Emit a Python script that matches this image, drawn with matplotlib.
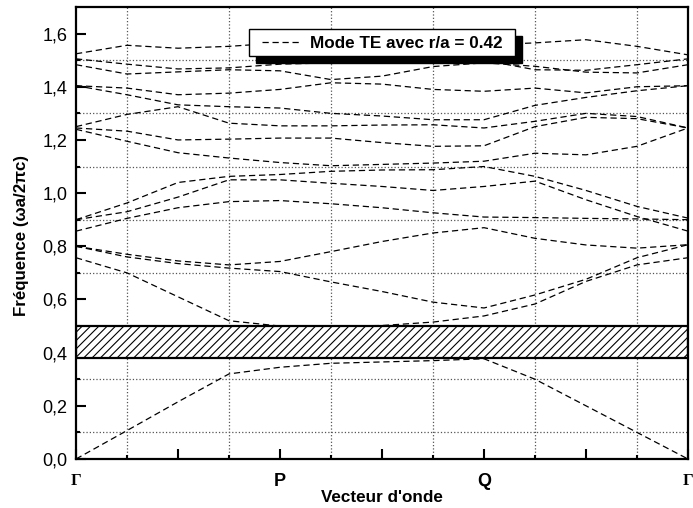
import numpy as np
import matplotlib
matplotlib.use('Agg')
import matplotlib.pyplot as plt
from matplotlib.patches import Rectangle
from matplotlib.lines import Line2D

# k path: Gamma -> P -> Q -> Gamma, 12 steps
k = np.arange(13)
k_labels = ['Γ', '', 'P', '', 'Q', '', 'Γ']

band1 = [0.000, 0.107, 0.215, 0.320, 0.345, 0.360, 0.365, 0.370, 0.377, 0.300, 0.200, 0.100, 0.000]
band2 = [0.757, 0.700, 0.610, 0.520, 0.500, 0.500, 0.502, 0.515, 0.538, 0.583, 0.668, 0.730, 0.757]
band3 = [0.800, 0.760, 0.735, 0.718, 0.705, 0.666, 0.630, 0.590, 0.568, 0.617, 0.676, 0.757, 0.806]
band4 = [0.800, 0.770, 0.745, 0.730, 0.743, 0.780, 0.818, 0.850, 0.870, 0.830, 0.805, 0.793, 0.806]
band5 = [0.857, 0.905, 0.945, 0.968, 0.972, 0.960, 0.945, 0.926, 0.910, 0.908, 0.905, 0.903, 0.900]
band6 = [0.900, 0.930, 0.985, 1.050, 1.050, 1.037, 1.025, 1.010, 1.025, 1.045, 0.975, 0.912, 0.857]
band7 = [0.900, 0.963, 1.040, 1.063, 1.070, 1.082, 1.087, 1.088, 1.100, 1.063, 1.010, 0.950, 0.906]
band8 = [1.240, 1.195, 1.152, 1.132, 1.115, 1.103, 1.108, 1.113, 1.120, 1.150, 1.144, 1.176, 1.245]
band9 = [1.245, 1.233, 1.200, 1.203, 1.207, 1.207, 1.190, 1.176, 1.178, 1.250, 1.285, 1.280, 1.245]
band10 = [1.250, 1.296, 1.325, 1.263, 1.253, 1.253, 1.256, 1.257, 1.245, 1.270, 1.300, 1.288, 1.245]
band11 = [1.404, 1.370, 1.332, 1.325, 1.320, 1.300, 1.290, 1.276, 1.276, 1.330, 1.360, 1.385, 1.404]
band12 = [1.404, 1.395, 1.370, 1.376, 1.390, 1.415, 1.410, 1.390, 1.383, 1.395, 1.377, 1.400, 1.404]
band13 = [1.483, 1.448, 1.456, 1.464, 1.460, 1.427, 1.440, 1.476, 1.490, 1.477, 1.455, 1.452, 1.483]
band14 = [1.505, 1.485, 1.467, 1.471, 1.485, 1.490, 1.500, 1.500, 1.500, 1.464, 1.462, 1.483, 1.505]
band15 = [1.524, 1.556, 1.545, 1.552, 1.565, 1.565, 1.562, 1.560, 1.557, 1.565, 1.577, 1.552, 1.520]
bands = [band1, band2, band3, band4, band5, band6, band7, band8,
         band9, band10, band11, band12, band13, band14, band15]

gap_low, gap_high = 0.38, 0.50
legend_text = 'Mode TE avec r/a = 0.42'

plt.rcParams['font.family'] = ['Liberation Sans', 'DejaVu Sans']
plt.rcParams['hatch.linewidth'] = 0.8

fig = plt.figure(figsize=(6.93, 5.08), dpi=100)
ax = fig.add_axes([76 / 693, 49 / 508, 612 / 693, 452 / 508])

# band gap
ax.add_patch(Rectangle((k[0], gap_low), k[-1] - k[0], gap_high - gap_low,
                       facecolor='white', edgecolor='black', hatch='////',
                       linewidth=1.6, zorder=2))

for b in bands:
    ax.plot(k, b, color='black', linestyle=(0, (5, 3)), linewidth=0.9, zorder=3)

ax.set_xlim(0, 12)
ax.set_ylim(0, 1.7)

ax.set_xticks(k[::2])
ax.set_xticklabels(k_labels)
ax.set_xticks(k[1::2], minor=True)
ax.set_yticks(np.arange(0, 1.61, 0.2))
ax.set_yticklabels([f'{v:.1f}'.replace('.', ',') for v in np.arange(0, 1.61, 0.2)])
ax.set_yticks(np.arange(0.1, 1.7, 0.2), minor=True)
ax.tick_params(which='major', direction='in', length=7.5, width=1.5, labelsize=13)
ax.tick_params(axis='y', which='major', pad=6)
ax.tick_params(axis='x', which='major', pad=10)
ax.tick_params(which='minor', direction='in', length=3, width=1.5)
for lab in ax.get_xticklabels():
    lab.set_fontweight('bold')
    if lab.get_text() == 'Γ':
        lab.set_family(['Liberation Serif', 'DejaVu Serif'])
        lab.set_fontsize(12)
ax.grid(which='minor', linestyle=':', color='#555555', linewidth=0.9)
ax.set_axisbelow(True)
for s in ax.spines.values():
    s.set_linewidth(1.6)

ax.set_ylabel('Fréquence (ωa/2πc)', fontsize=12.2, fontweight='bold')
ax.yaxis.set_label_coords(-0.077, 0.495)
ax.set_xlabel("Vecteur d'onde", fontsize=12.3, fontweight='bold')
ax.xaxis.set_label_coords(0.5, -0.068)

# legend box with hard shadow
fig.patches.append(Rectangle((256 / 693, 1 - 63 / 508), 266 / 693, 27 / 508,
                             transform=fig.transFigure, facecolor='black',
                             edgecolor='black', zorder=5))
fig.patches.append(Rectangle((249 / 693, 1 - 56 / 508), 266 / 693, 27 / 508,
                             transform=fig.transFigure, facecolor='white',
                             edgecolor='black', linewidth=1, zorder=6))
fig.lines.append(Line2D([262 / 693, 302 / 693], [1 - 42 / 508, 1 - 42 / 508],
                        transform=fig.transFigure, color='black',
                        linestyle=(0, (5, 3)), linewidth=0.9, zorder=7))
fig.text(310 / 693, 1 - 43 / 508, legend_text, ha='left', va='center',
         fontsize=12.3, fontweight='bold', zorder=8)

fig.savefig('out.png', dpi=100)
